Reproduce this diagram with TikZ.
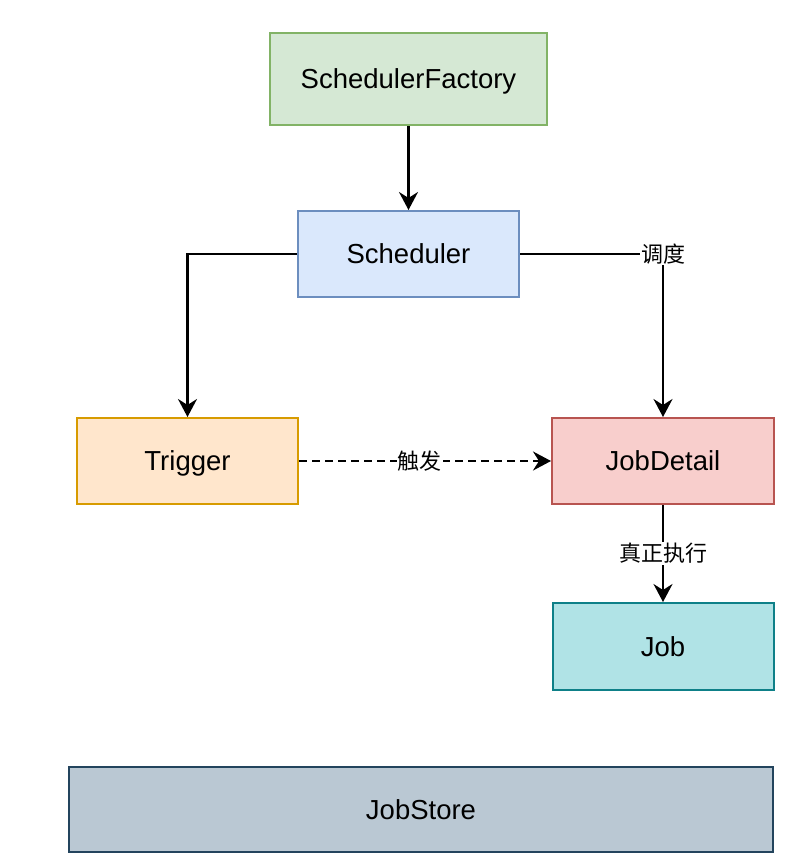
\documentclass[tikz,border=0pt]{standalone}
\usepackage{fontspec}
\setmainfont{Liberation Sans}
\newfontfamily\cjk{Noto Sans CJK SC}
\usetikzlibrary{arrows.meta}
\definecolor{gfill}{HTML}{D5E8D4}\definecolor{gline}{HTML}{82B366}
\definecolor{bfill}{HTML}{DAE8FC}\definecolor{bline}{HTML}{6C8EBF}
\definecolor{ofill}{HTML}{FFE6CC}\definecolor{oline}{HTML}{D79B00}
\definecolor{rfill}{HTML}{F8CECC}\definecolor{rline}{HTML}{B85450}
\definecolor{tfill}{HTML}{B0E3E6}\definecolor{tline}{HTML}{0E8088}
\definecolor{sfill}{HTML}{BAC8D3}\definecolor{sline}{HTML}{23445D}
\begin{document}
\begin{tikzpicture}[x=1pt,y=-1pt,
  box/.style={rectangle, line width=2pt, inner sep=0pt, text height=19.5pt, text depth=0pt, font=\fontsize{27.5}{32}\selectfont},
  conn/.style={line width=2.2pt, -{Stealth[length=18pt,width=19pt,inset=6pt]}},
  lbl/.style={fill=white, inner sep=1pt, font=\cjk\fontsize{22}{26}\selectfont}]
\useasboundingbox (0,0) rectangle (802,865);
\node[box, fill=gfill, draw=gline, minimum width=277pt, minimum height=92pt] (sf) at (408.5,79) {SchedulerFactory};
\node[box, fill=bfill, draw=bline, minimum width=221pt, minimum height=86pt] (sch) at (408.5,254) {Scheduler};
\node[box, fill=ofill, draw=oline, minimum width=221pt, minimum height=86pt] (trig) at (187.5,461) {Trigger};
\node[box, fill=rfill, draw=rline, minimum width=222pt, minimum height=86pt] (jd) at (663,461) {JobDetail};
\node[box, fill=tfill, draw=tline, minimum width=221pt, minimum height=87pt] (job) at (663,646.5) {Job};
\node[box, fill=sfill, draw=sline, minimum width=704pt, minimum height=85pt] (js) at (421,809.5) {JobStore};
\draw[conn] (sf.south) -- (sch.north);
\draw[conn] (sch.west) -| (trig.north);
\draw[conn] (sch.east) -| node[lbl, pos=0.5] {调度} (jd.north);
\draw[conn, dash pattern=on 8pt off 5pt] (trig.east) -- node[lbl, pos=0.48] {触发} (jd.west);
\draw[conn] (jd.south) -- node[lbl] {真正执行} (job.north);
\end{tikzpicture}
\end{document}
